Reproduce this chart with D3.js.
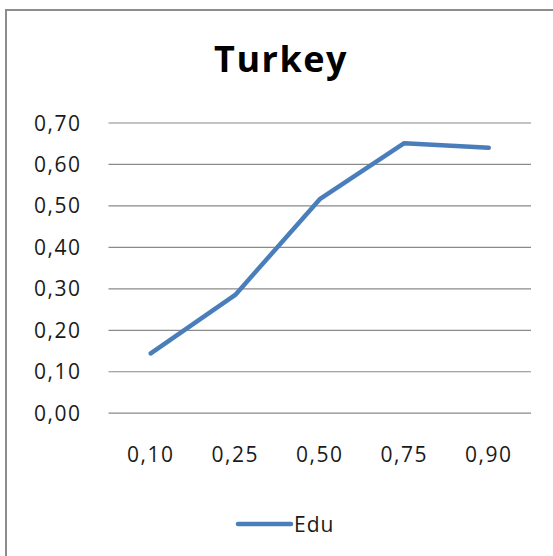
<!DOCTYPE html>
<html>
<head>
<meta charset="utf-8">
<script src="https://cdn.jsdelivr.net/npm/d3@7"></script>
<style>
  html, body { margin: 0; padding: 0; background: #fff; }
  svg { display: block; }
</style>
</head>
<body>
<svg id="chart" width="553" height="556"></svg>
<script>
// Education share by quantile, Turkey
const categories = ["0,10", "0,25", "0,50", "0,75", "0,90"];
const eduValues = [0.143, 0.284, 0.515, 0.650, 0.639];
const yTicks = [0, 0.1, 0.2, 0.3, 0.4, 0.5, 0.6, 0.7];
const seriesName = "Edu";
const chartTitle = "Turkey";

const svg = d3.select("#chart");
const font = "'Open Sans', 'Liberation Sans', sans-serif";
const lineColor = "#4a7ebb";

// Chart frame (extends past the right and bottom edges)
svg.append("rect")
  .attr("x", 6).attr("y", 10)
  .attr("width", 620).attr("height", 620)
  .attr("fill", "#fff")
  .attr("stroke", "#8c8c8c")
  .attr("stroke-width", 2);

const plot = { left: 108.5, right: 531, top: 122.5, bottom: 412.7 };

const x = d3.scaleBand()
  .domain(categories)
  .range([plot.left, plot.right]);

const y = d3.scaleLinear()
  .domain([0, 0.7])
  .range([plot.bottom, plot.top]);

const fmt = v => d3.format(".2f")(v).replace(".", ",");

// Horizontal gridlines
const yAxis = d3.axisLeft(y)
  .tickValues(yTicks)
  .tickSize(-(plot.right - plot.left))
  .tickPadding(27)
  .tickFormat(fmt);

const gy = svg.append("g")
  .attr("transform", `translate(${plot.left},0)`)
  .call(yAxis);
gy.select(".domain").remove();
gy.selectAll(".tick line")
  .attr("stroke", "#8a8a8a")
  .attr("stroke-width", 1.2);
gy.selectAll(".tick text")
  .attr("font-family", font)
  .attr("font-size", 21)
  .attr("letter-spacing", 1.5)
  .attr("fill", "#1a1a1a")
  .attr("dy", "0.36em");

// Category labels
const xAxis = d3.axisBottom(x).tickSize(0).tickPadding(0);
const gx = svg.append("g")
  .attr("transform", `translate(0,${plot.bottom})`)
  .call(xAxis);
gx.select(".domain").remove();
gx.selectAll(".tick text")
  .attr("font-family", font)
  .attr("font-size", 21)
  .attr("letter-spacing", 1.5)
  .attr("fill", "#1a1a1a")
  .attr("dy", null)
  .attr("y", 49.5);

// Data line
const line = d3.line()
  .x((d, i) => x(categories[i]) + x.bandwidth() / 2)
  .y(d => y(d));

svg.append("path")
  .datum(eduValues)
  .attr("d", line)
  .attr("fill", "none")
  .attr("stroke", lineColor)
  .attr("stroke-width", 4.5)
  .attr("stroke-linejoin", "round")
  .attr("stroke-linecap", "round");

// Title
svg.append("text")
  .attr("x", 281)
  .attr("y", 72)
  .attr("text-anchor", "middle")
  .attr("font-family", font)
  .attr("font-weight", "bold")
  .attr("font-size", 36)
  .attr("letter-spacing", 1.5)
  .attr("fill", "#000")
  .text(chartTitle);

// Legend
svg.append("line")
  .attr("x1", 238).attr("x2", 291)
  .attr("y1", 524).attr("y2", 524)
  .attr("stroke", lineColor)
  .attr("stroke-width", 4.5)
  .attr("stroke-linecap", "round");
svg.append("text")
  .attr("x", 294)
  .attr("y", 532)
  .attr("font-family", font)
  .attr("font-size", 21)
  .attr("letter-spacing", 1)
  .attr("fill", "#1a1a1a")
  .text(seriesName);
</script>
</body>
</html>
